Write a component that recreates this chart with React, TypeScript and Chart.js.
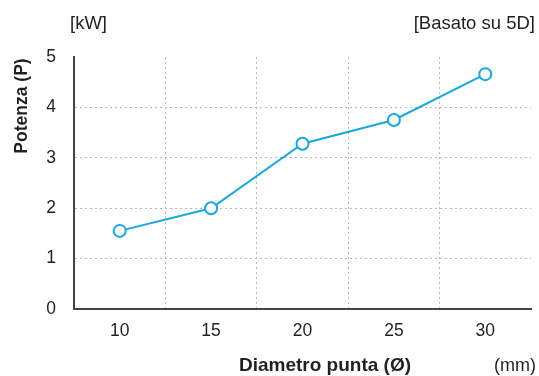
import React, { useEffect, useRef } from "react";
import { Chart, registerables } from "chart.js";

Chart.register(...registerables);

const categories = ["10", "15", "20", "25", "30"];
const powerValues = [1.55, 2.0, 3.28, 3.75, 4.66];
const yMin = 0;
const yMax = 5;

const FONT = "'Liberation Sans', Arial, Helvetica, sans-serif";
const TEXT = "#231f20";
const BLUE = "#1aa7e0";
const GRID = "#b8b8b8";

const textPlugin = {
  id: "extraText",
  afterDraw(chart: any) {
    const ctx = chart.ctx;
    ctx.save();
    ctx.fillStyle = TEXT;
    ctx.textBaseline = "middle";
    ctx.font = `18.5px ${FONT}`;
    ctx.textAlign = "left";
    ctx.fillText("[kW]", 70, 24);
    ctx.textAlign = "right";
    ctx.fillText("[Basato su 5D]", 535, 24);
    ctx.font = `18px ${FONT}`;
    ctx.fillText("(mm)", 536, 366);
    ctx.font = `bold 19px ${FONT}`;
    ctx.textAlign = "center";
    ctx.fillText("Diametro punta (\u00d8)", 325, 366);
    ctx.font = `bold 17.5px ${FONT}`;
    ctx.translate(22, 106);
    ctx.rotate(-Math.PI / 2);
    ctx.fillText("Potenza (P)", 0, 0);
    ctx.restore();
  },
};

export default function App() {
  const ref = useRef<HTMLCanvasElement | null>(null);
  useEffect(() => {
    if (!ref.current) return;
    const chart = new Chart(ref.current, {
      type: "line",
      data: {
        labels: categories,
        datasets: [
          {
            data: powerValues,
            borderColor: BLUE,
            borderWidth: 2,
            backgroundColor: "#ffffff",
            pointBackgroundColor: "#ffffff",
            pointBorderColor: BLUE,
            pointBorderWidth: 2,
            pointRadius: 6,
            tension: 0,
          },
        ],
      },
      options: {
        animation: false,
        responsive: false,
        maintainAspectRatio: false,
        layout: { padding: { top: 57, right: 5, left: 0, bottom: 0 } },
        plugins: { legend: { display: false }, tooltip: { enabled: false } },
        scales: {
          x: {
            type: "category",
            offset: true,
            grid: {
              offset: true,
              drawTicks: false,
              color: (c: any) =>
                c.index === undefined || c.index === 0 ? "rgba(0,0,0,0)" : GRID,
              lineWidth: 1,
            },
            border: { display: true, color: "#444", width: 2, dash: [2, 3] },
            ticks: {
              color: TEXT,
              font: { family: FONT, size: 17.5 },
              padding: 12,
              maxRotation: 0,
            },
            afterFit: (s: any) => {
              s.height = 67;
            },
          },
          y: {
            min: yMin,
            max: yMax,
            grid: {
              drawTicks: false,
              color: (c: any) =>
                c.tick && (c.tick.value === yMin || c.tick.value === yMax)
                  ? "rgba(0,0,0,0)"
                  : GRID,
              lineWidth: 1,
            },
            border: { display: true, color: "#444", width: 2, dash: [2, 3] },
            ticks: {
              stepSize: 1,
              color: TEXT,
              font: { family: FONT, size: 17.5 },
              padding: 18,
            },
            afterFit: (s: any) => {
              s.width = 74;
            },
          },
        },
      },
      plugins: [textPlugin],
    });
    return () => chart.destroy();
  }, []);
  return (
    <div style={{ position: "absolute", left: 0, top: 0, width: 539, height: 376, background: "#fff" }}>
      <canvas ref={ref} width={539} height={376} style={{ display: "block" }} />
    </div>
  );
}
